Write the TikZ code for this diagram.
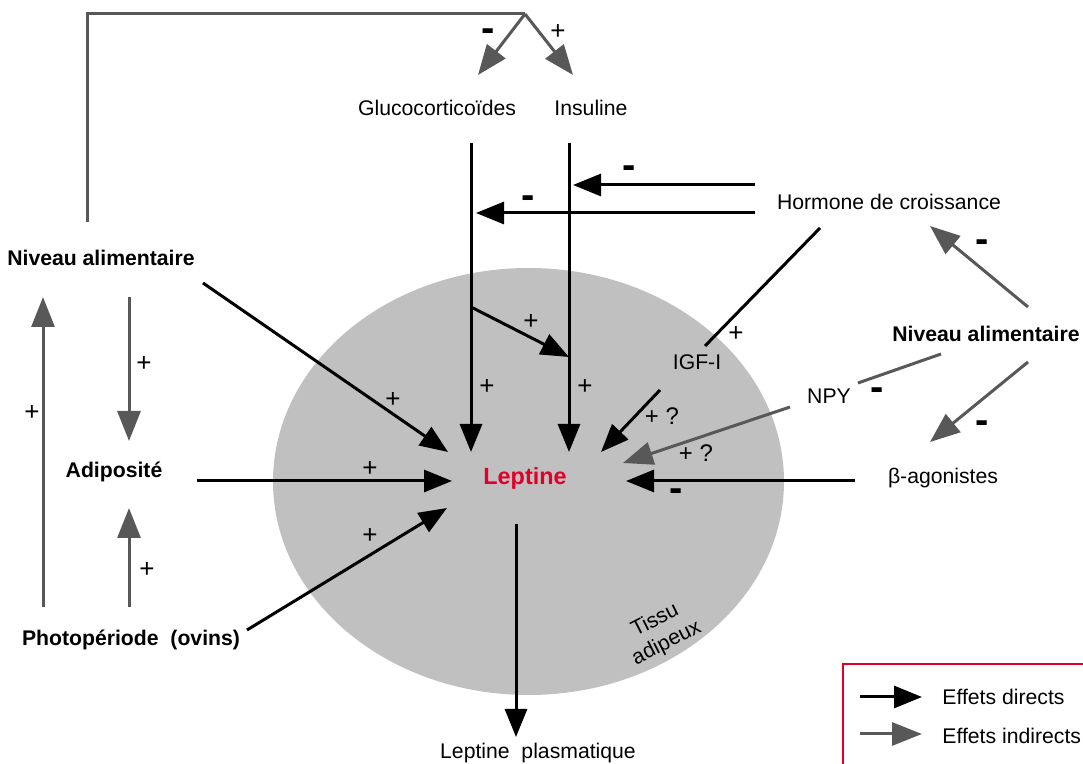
\documentclass[tikz,border=0pt]{standalone}
\usepackage{fontspec}
\setmainfont{Liberation Sans}
\usetikzlibrary{arrows.meta}
\definecolor{indgray}{RGB}{88,88,88}
\definecolor{tissue}{RGB}{192,192,192}
\definecolor{leptred}{RGB}{224,0,42}

\begin{document}
\begin{tikzpicture}[x=0.5pt, y=-0.5pt,
    txt/.style={font=\fontsize{10.6}{12.7}\selectfont, inner sep=1pt},
    lbl/.style={txt, font=\fontsize{10.6}{12.7}\selectfont\bfseries},
    plus/.style={inner sep=1pt, font=\fontsize{13}{14}\selectfont},
    query/.style={inner sep=1pt, font=\fontsize{12}{14}\selectfont},
    minus/.style={inner sep=0pt, font=\fontsize{20}{20}\selectfont\bfseries},
    direct/.style={draw=black, line width=1.5pt, -{Triangle[length=14pt,width=11pt]}},
    indirect/.style={draw=indgray, line width=1.5pt, -{Triangle[length=15pt,width=11.5pt]}, color=indgray},
    plain/.style={draw=black, line width=1.5pt},
    grayplain/.style={draw=indgray, line width=1.5pt}]
          \useasboundingbox (0,0) rectangle (1083,764);
          \clip (0,0) rectangle (1083,764);

          % Tissue (ellipse)
          \fill[tissue] (528.5,481.5) ellipse [x radius=255.5, y radius=213.5];
          \node[txt, rotate=27, align=center] (tissu) at (661,632) {Tissu\\adipeux};

          % Nodes for the factors
          \node[lbl, text=leptred, font=\fontsize{11.7}{14}\selectfont\bfseries] (lep) at (525,478) {Leptine};
          \node[txt] (gluco) at (437,108) {Glucocorticoïdes};
          \node[txt] (ins) at (591,108) {Insuline};
          \node[txt] (gh) at (889,202) {Hormone de croissance};
          \node[txt] (igf) at (697,362) {IGF-I};
          \node[txt] (npy) at (829,396) {NPY};
          \node[txt] (beta) at (943,478) {β-agonistes};
          \node[lbl] (nivR) at (986,334) {Niveau alimentaire};
          \node[lbl] (nivL) at (101,258) {Niveau alimentaire};
          \node[lbl] (adip) at (114,472) {Adiposité};
          \node[lbl] (photo) at (131,640) {Photopériode\ \ (ovins)};
          \node[txt] (plasma) at (538,753) {Leptine\ \ plasmatique};

          % Coordinates for the free ends
          \coordinate (fbStart) at (87,222);
          \coordinate (fbSplit) at (525,14);
          \coordinate (glucoIn) at (478,75);
          \coordinate (insIn) at (573,75);
          \coordinate (glucoOut) at (471,143);
          \coordinate (glucoTip) at (471,452);
          \coordinate (insOut) at (569,143);
          \coordinate (insTip) at (569,452);
          \coordinate (branch) at (471,307);
          \coordinate (branchTip) at (569,357);
          \coordinate (ghA) at (755,185);
          \coordinate (ghATip) at (573,185);
          \coordinate (ghB) at (755,213);
          \coordinate (ghBTip) at (476,213);
          \coordinate (ghLink) at (820,228);
          \coordinate (igfIn) at (705,346);
          \coordinate (igfOut) at (660,390);
          \coordinate (igfTip) at (601,452);
          \coordinate (nivRUp) at (1028,307);
          \coordinate (ghIn) at (930,226);
          \coordinate (nivRDn) at (1028,362);
          \coordinate (betaIn) at (930,442);
          \coordinate (nivRNpy) at (941,354);
          \coordinate (npyIn) at (858,383);
          \coordinate (npyOut) at (790,407);
          \coordinate (npyTip) at (623,463);
          \coordinate (betaOut) at (855,481);
          \coordinate (betaTip) at (626,481);
          \coordinate (nivLOut) at (203,283);
          \coordinate (nivLTip) at (448,452);
          \coordinate (adipOut) at (197,481);
          \coordinate (adipTip) at (452,481);
          \coordinate (photoOut) at (247,630);
          \coordinate (photoTip) at (447,508);
          \coordinate (lepOut) at (516,524);
          \coordinate (plasmaIn) at (516,737);
          \coordinate (photoUp) at (43,607);
          \coordinate (nivLIn) at (43,297);
          \coordinate (nivLDn) at (129,297);
          \coordinate (adipIn) at (129,441);
          \coordinate (photoAd) at (129,607);
          \coordinate (adipBot) at (129,508);

          % Indirect effects (gray)
          \draw[grayplain] (fbStart) |- (fbSplit);
          \draw[indirect] (fbSplit) -- (glucoIn);
          \draw[indirect] (fbSplit) -- (insIn);
          \draw[indirect] (nivRUp) -- (ghIn);
          \draw[indirect] (nivRDn) -- (betaIn);
          \draw[grayplain] (nivRNpy) -- (npyIn);
          \draw[indirect] (npyOut) -- (npyTip);
          \draw[indirect] (photoUp) -- (nivLIn);
          \draw[indirect] (nivLDn) -- (adipIn);
          \draw[indirect] (photoAd) -- (adipBot);

          % Direct effects (black)
          \draw[direct] (glucoOut) -- (glucoTip);
          \draw[direct] (insOut) -- (insTip);
          \draw[direct] (branch) -- (branchTip);
          \draw[direct] (ghA) -- (ghATip);
          \draw[direct] (ghB) -- (ghBTip);
          \draw[plain] (ghLink) -- (igfIn);
          \draw[direct] (igfOut) -- (igfTip);
          \draw[direct] (betaOut) -- (betaTip);
          \draw[direct] (nivLOut) -- (nivLTip);
          \draw[direct] (adipOut) -- (adipTip);
          \draw[direct] (photoOut) -- (photoTip);
          \draw[direct] (lepOut) -- (plasmaIn);

          % Signs
          \node[minus] (s1) at (488,35) {-};
          \node[plus] (s2) at (558,32) {+};
          \node[plus] (s3) at (531,322) {+};
          \node[plus] (s4) at (487,387) {+};
          \node[plus] (s5) at (585,387) {+};
          \node[minus] (s6) at (629,172) {-};
          \node[minus] (s7) at (528,202) {-};
          \node[plus] (s8) at (736,334) {+};
          \node[query] (s9) at (662,416) {+ ?};
          \node[query] (s10) at (696,453) {+ ?};
          \node[minus] (s11) at (877,394) {-};
          \node[minus] (s12) at (982,246) {-};
          \node[minus] (s13) at (982,427) {-};
          \node[minus] (s14) at (676,495) {-};
          \node[plus] (s15) at (393,400) {+};
          \node[plus] (s16) at (370,469) {+};
          \node[plus] (s17) at (370,536) {+};
          \node[plus] (s18) at (32,413) {+};
          \node[plus] (s19) at (144,364) {+};
          \node[plus] (s20) at (147,570) {+};

          % Legend
          \draw[leptred, line width=0.8pt] (843,664) rectangle (1100,800);
          \coordinate (legA) at (860,697);
          \coordinate (legATip) at (922,697);
          \coordinate (legB) at (860,734);
          \coordinate (legBTip) at (922,734);
          \draw[direct] (legA) -- (legATip);
          \draw[indirect] (legB) -- (legBTip);
          \node[txt, anchor=west] (effD) at (940,697) {Effets directs};
          \node[txt, anchor=west] (effI) at (940,736) {Effets indirects};
        \end{tikzpicture}
\end{document}
